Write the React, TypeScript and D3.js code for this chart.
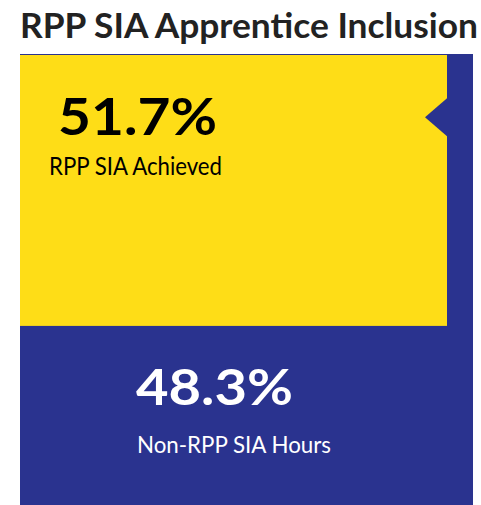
import React from "react";
import * as d3 from "d3";

const title = "RPP SIA Apprentice Inclusion";
const categories = ["RPP SIA Achieved", "Non-RPP SIA Hours"];
const values = [51.7, 48.3];
const colors = ["#FEDD17", "#2A338F"];

const W = 481;
const H = 505;

export default function App() {
  const total = d3.sum(values);
  const top = 55;
  // vertical scale: share of total mapped onto panel height
  const y = d3.scaleLinear().domain([0, total]).range([top, top + 524]);
  const yellowBottom = y(values[0]);
  const x0 = 20;
  const xYellowEnd = 447;
  const xBlueEnd = 473;
  const fmt = (v: number) => d3.format(".1f")(v) + "%";
  const font = "Lato, 'Open Sans', sans-serif";
  const notchY = y(values[0] * 0.23);

  return (
    <svg width={W} height={H} style={{ position: "absolute", left: 0, top: 0 }} fontFamily={font}>
      <rect x={0} y={0} width={W} height={H} fill="#fff" />
      <text x={249} y={38} textAnchor="middle" fontSize={34} fontWeight={700} fill="#222"
        textLength={458} lengthAdjust="spacingAndGlyphs">{title}</text>
      <rect x={x0} y={top - 1} width={xBlueEnd - x0} height={y(total) - top + 1} fill={colors[1]} />
      <rect x={x0} y={top} width={xYellowEnd - x0} height={yellowBottom - top} fill={colors[0]} />
      <path d={`M${xYellowEnd},${notchY - 19}L${xYellowEnd - 22},${notchY}L${xYellowEnd},${notchY + 19}Z`} fill={colors[1]} />
      <text x={58} y={135} fontSize={51} fontWeight={700} fill="#000" textLength={159} lengthAdjust="spacingAndGlyphs">{fmt(values[0])}</text>
      <text x={49} y={175} fontSize={25} fill="#000" textLength={173} lengthAdjust="spacingAndGlyphs">{categories[0]}</text>
      <text x={136} y={405} fontSize={50} fontWeight={700} fill="#fff" textLength={157} lengthAdjust="spacingAndGlyphs">{fmt(values[1])}</text>
      <text x={137} y={453} fontSize={23} fill="#fff" textLength={194} lengthAdjust="spacingAndGlyphs">{categories[1]}</text>
    </svg>
  );
}
